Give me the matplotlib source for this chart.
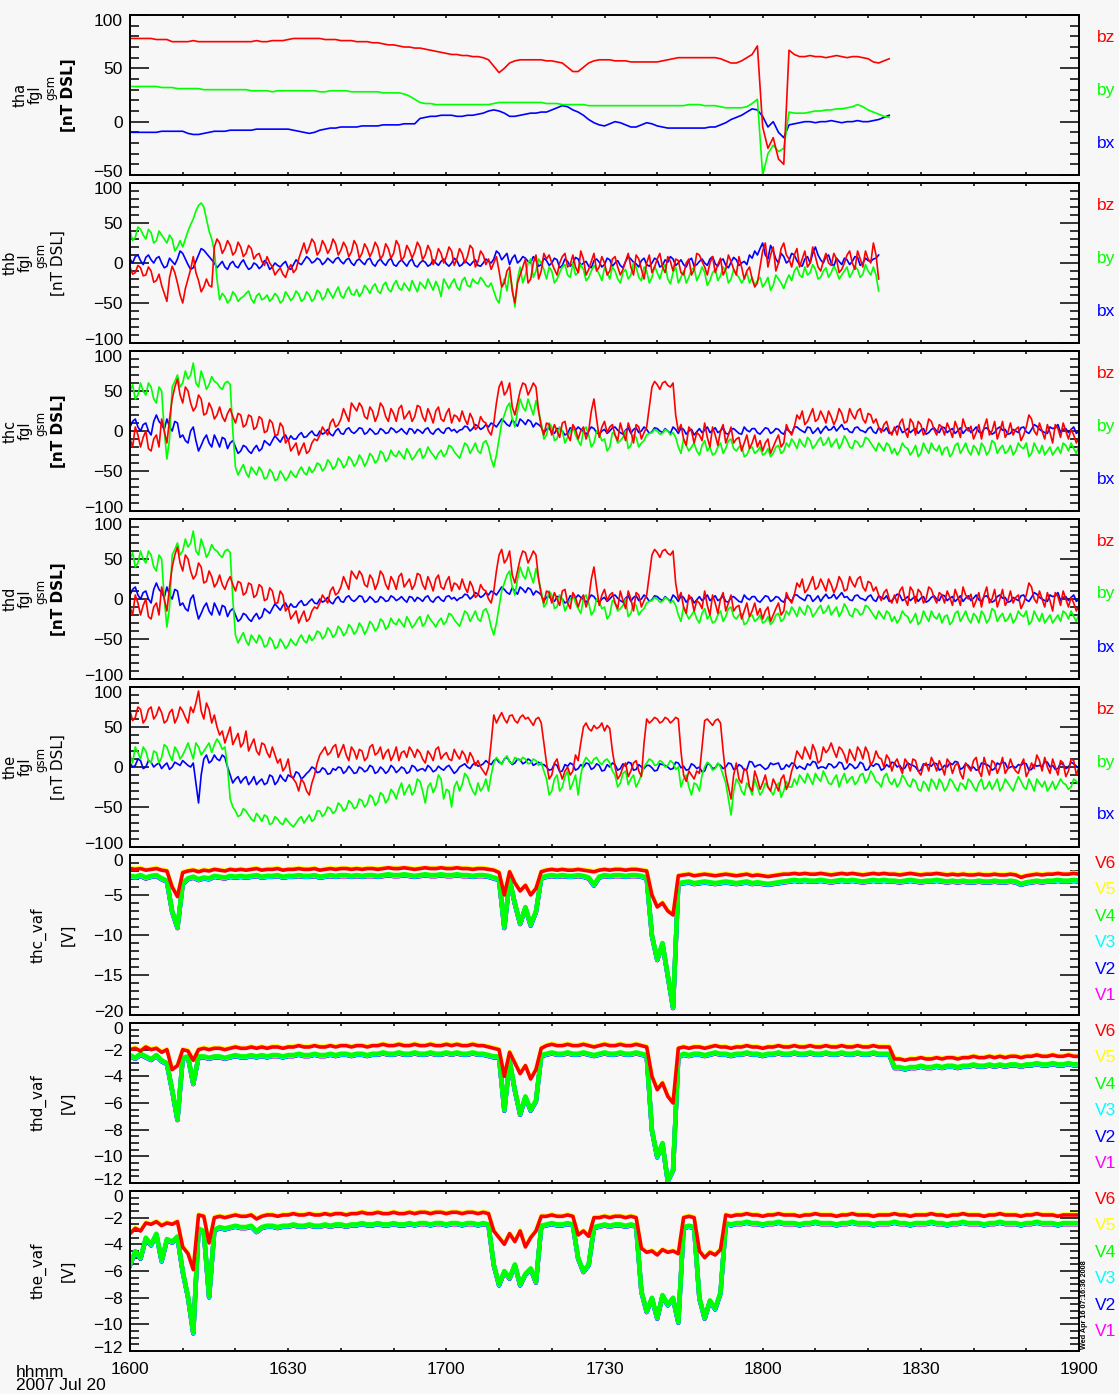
import numpy as np
import matplotlib
matplotlib.use("Agg")
import matplotlib.pyplot as plt
import matplotlib.transforms as mtransforms
from matplotlib.ticker import MultipleLocator, FixedLocator

plt.rcParams['font.family'] = ['Liberation Sans', 'DejaVu Sans']

# ---------------- axis text ----------------
X_TICK_MINUTES = [0, 30, 60, 90, 120, 150, 180]
X_TICK_LABELS = ['1600', '1630', '1700', '1730', '1800', '1830', '1900']
TIME_LABEL = 'hhmm'
DATE_LABEL = '2007 Jul 20'
STAMP = 'Wed Apr 16 07:16:36 2008'
FGM_COMPONENTS = ['bz', 'by', 'bx']
VAF_COMPONENTS = ['V6', 'V5', 'V4', 'V3', 'V2', 'V1']

# ---------------- data ----------------
# *_BZ/BY/BX: one value per whole minute after 16:00 UT;
# *_MID: readings between those minutes (at minute + 0.5)
THA_BZ = [78,78,78,78,78,77,77,77,
          75,75,75,75,76,75,75,75,75,75,75,75,75,75,75,75,76,75,75,76,76,76,
          77,78,78,78,78,78,78,77,77,77,76,
          76,76,75,75,75,74,74,73,72,72,71,70,70,69,69,68,67,66,65,64,63,63,62,62,61,61,60,58,52,46,
          50,55,57,58,58,58,58,58,57,57,56,55,51,47,47,51,55,57,58,58,
          58,57,57,57,56,56,56,56,56,56,57,58,59,60,60,60,60,60,60,60,
          60,59,57,55,55,57,60,63,71,
          -5,-25,-15,-35,-40,
          67,63,61,61,62,61,61,60,61,62,61,60,61,61,60,59,56,55,57,59]
THA_BY = [33,33,33,33,33,33,32,32,32,31,31,31,31,31,30,30,30,30,30,30,30,
          30,30,29,29,29,29,28,29,29,29,
          29,29,29,29,29,28,28,29,29,29,29,28,28,28,28,28,28,27,27,27,
          27,26,24,21,18,
          17,17,16,16,16,16,16,16,16,16,16,16,16,17,18,
          18,18,18,18,18,18,18,18,17,17,17,16,16,16,16,16,15,15,15,15,
          15,15,15,15,15,15,15,15,15,15,15,15,15,15,15,16,16,16,15,15,
          15,14,13,13,13,13,14,17,21,
          -50,-30,-22,-28,-25,
          9,8,8,8,9,10,10,11,11,12,12,13,14,16,14,11,9,7,5,4]
THA_BX = [-10,-10,-10,-10,-10,-10,-9,-9,-9,-9,-9,
          -11,-12,-12,-11,-10,-9,-9,-9,-8,-8,-8,-8,-8,-7,-7,
          -7,-7,-7,-7,-7,-8,-9,-10,-11,-10,-8,-7,-6,-6,-5,
          -5,-5,-5,-4,-4,-4,-4,-3,-3,-3,-3,-2,-2,-2,
          3,4,5,5,6,6,6,5,5,6,6,
          7,8,10,11,10,8,
          5,5,6,7,8,8,9,9,
          11,13,15,14,11,9,6,
          2,-1,-3,-4,
          -2,0,-1,-3,-5,-5,-3,-1,-2,-4,
          -5,-6,-6,-6,-6,-6,-6,-6,
          -6,-5,-5,-3,-1,2,4,6,9,12,11,
          5,-5,0,-10,-15,
          -3,-2,-1,0,0,-1,0,0,1,0,-1,0,0,1,0,0,1,2,4,6]

THB_BZ = [-5,-12,-6,-15,-10,-22,-28,-48,-4,-25,-50,-20,8,-22,-30,-28,20,
          25,18,22,14,20,12,18,10,2,8,-5,
          -10,-14,-8,-12,5,25,
          20,25,15,22,18,24,16,20,14,22,12,18,
          15,20,10,18,12,22,8,16,14,20,10,15,5,12,8,
          15,5,12,8,18,2,10,5,
          0,-10,-25,-5,-50,-15,5,-20,10,-10,5,
          0,-15,8,-5,10,-12,5,-8,12,-5,0,-10,8,-15,2,-5,10,-8,0,-12,5,
          -5,8,-10,3,-15,5,-8,10,-5,0,-12,6,-8,2,-15,-5,-10,-20,
          -25,15,-5,20,0,25,5,
          10,-5,15,0,8,-10,12,-3,5,-8,10,0,15,-5,5,25,-20]
THB_BZ_MID = [-14,-3,-16,-5,-24,-14,-38,-18,-12,-40,-32,-8,-12,-36,-20,-30,
              30,12,28,10,26,8,22,5,12,-3,0,
              -15,-6,-18,-2,-8,15,
              12,30,10,28,12,30,10,26,8,28,6,24,
              8,26,5,24,6,28,3,22,6,26,4,22,-2,18,0,
              20,-3,18,0,22,-5,15,-2,
              -8,8,-30,-10,-35,-25,-5,-25,0,-20,12,
              10,-8,0,12,-2,-5,15,-15,2,-10,8,-15,5,-5,-8,12,-15,5,-20,10,-5,
              12,-12,2,5,-12,0,-15,12,2,-15,8,-2,-15,10,-8,8,-20,-5,
              -30,-5,25,10,-10,18,10,
              -5,18,5,-5,20,-5,2,0,12,-12,0,15,-8,5,15,0,10]
THB_BY = [40,32,42,30,38,28,35,25,30,20,
          20,40,55,72,70,40,15,-46,
          -42,-46,-40,-44,-38,-45,-41,-46,-40,-44,-42,-47,-41,
          -43,-39,-45,-40,-44,-37,-42,-38,-36,-41,-35,-39,-33,-37,-32,
          -30,-35,-28,-33,-27,-31,-25,-35,-29,-24,-32,-27,-23,-42,-26,
          -25,-30,-22,-28,-20,-26,-22,-30,
          -35,-50,-20,
          -10,-55,-5,-15,5,-10,0,-20,
          -10,-20,-5,-15,0,-12,-8,-18,-3,-14,-6,-20,-10,-25,-8,-15,-5,-22,-10,-18,-12,
          -8,-20,-12,-25,-10,-18,-6,-15,-12,-22,-8,-16,-10,-20,-14,-25,-12,-18,
          -22,-30,-18,-28,-20,-32,-15,
          -10,-15,-5,-12,-8,-18,-6,-12,-10,-15,-5,-12,-8,-14,-10,-5,-35]
THB_BY_MID = [28,45,35,42,25,40,30,35,15,
              28,30,48,65,75,55,30,-20,
              -38,-50,-36,-48,-42,-35,-50,-38,-44,-48,-38,-50,-36,
              -47,-35,-48,-36,-48,-34,-46,-32,-44,-30,-44,-30,-40,-42,-28,
              -38,-26,-38,-24,-36,-22,-34,-30,-22,-36,-28,-20,-34,-30,-20,
              -32,-20,-34,-18,-30,-24,-18,-28,
              -25,-45,-30,-35,-30,-20,-25,0,-18,5,-8,
              -5,-25,-12,-2,-18,-15,-2,-22,-10,-8,-22,-12,-5,-20,-12,-20,0,-18,-5,-25,-4,
              -20,-2,-26,-5,-18,-25,-8,-22,-5,-28,-12,-22,-5,-25,-8,-18,-20,-25,
              -28,-18,-25,-34,-15,-25,-22,
              -22,-5,-18,-15,-2,-20,-10,-18,-4,-20,-10,-18,-4,-18,-2,-15,-15]
THB_BX = [5,8,3,7,4,6,0,-4,2,5,12,-2,-6,10,16,8,0,
          -2,-5,-1,-4,0,-3,-6,-2,-4,0,-5,-3,-1,-6,-2,0,3,5,2,
          4,1,3,5,2,4,0,3,1,4,-1,2,0,3,-2,1,0,2,-3,0,1,-2,0,2,-1,0,3,-2,0,1,-3,0,2,
          5,12,8,-2,10,3,6,0,4,-2,3,
          0,4,-3,2,-1,5,0,-4,3,1,-2,4,0,-3,2,5,-1,3,-2,0,4,-3,1,5,0,-2,3,-4,2,0,5,-1,3,-3,1,4,0,-2,6,
          10,25,5,15,0,8,3,10,-2,5,0,20,4,8,0,6,-2,4,2,7,0,3,5,10]
THB_BX_MID = [0,10,-2,10,0,8,-6,6,-2,15,5,-8,2,18,12,4,
              -6,2,-8,2,-6,4,-8,0,-7,3,-8,0,-5,2,-8,4,-2,8,0,
              6,-2,6,0,7,-1,6,-3,5,-2,6,-4,5,-3,6,-4,4,-4,5,-5,3,-4,4,-3,5,-4,6,-4,3,-3,4,-4,5,
              0,15,4,12,6,0,8,2,8,-4,6,
              -3,6,-6,5,-4,7,-3,2,-6,5,-5,6,-4,3,-6,8,1,-5,6,-4,6,-5,4,8,-3,4,-5,6,-2,5,-3,8,-4,5,-6,7,-3,2,10,
              15,18,10,22,5,12,0,12,3,-4,8,12,10,0,10,-4,2,6,-2,8,-3,6,2,6]

THC_BZ = [-10,5,-20,0,-25,-5,15,-15,40,65,35,
          50,25,45,20,35,15,30,12,28,10,
          20,8,18,5,15,0,10,-5,5,-10,
          -20,-30,-15,-25,-10,-5,0,10,5,15,
          20,35,25,30,15,25,20,30,12,22,
          28,15,25,18,30,12,20,25,15,22,
          10,18,25,8,15,5,12,0,
          10,55,45,60,20,50,58,52,55,5,10,-5,
          0,10,-5,8,-10,5,0,40,-8,12,5,-5,10,-12,0,8,-10,5,
          55,58,60,57,60,
          0,-10,5,-15,-5,10,-20,-5,0,-15,5,-10,-25,-5,-15,-20,
          -25,-10,-20,-5,-15,0,5,
          15,8,20,12,25,10,18,15,22,12,20,25,15,22,10,5,8,0,5,
          10,0,15,-5,8,0,12,-5,5,10,-8,3,15,0,-10,8,5,-5,12,0,
          -8,10,2,-12,5,15,-5,0,8,-15,3,10,-10,-5,-8]
THC_BZ_MID = [-20,-5,-8,-22,-10,-20,0,15,55,45,
              55,35,30,40,22,28,20,18,22,18,
              22,5,20,2,18,-2,14,-5,10,-15,
              -25,-15,-22,-28,-15,-12,5,-5,15,8,
              28,12,30,35,18,30,12,35,18,28,12,32,20,12,32,18,28,10,30,12,28,20,12,15,22,2,18,10,
              -5,35,62,50,30,35,60,45,60,25,-5,8,
              8,-8,12,-12,2,0,-10,25,15,5,-2,8,-12,-2,10,-15,5,-2,
              30,62,52,62,55,20,
              8,-18,0,-2,-12,-8,5,-18,8,-5,-15,-8,-15,-22,-5,-12,
              -15,-28,-12,-20,8,-5,
              20,25,12,28,15,18,25,8,28,10,28,15,28,10,20,15,-2,12,-5,
              -5,15,-8,10,12,-5,15,2,8,-5,2,12,-8,5,6,-2,-10,15,0,-10,
              12,-2,-5,5,-5,20,0,10,-10,-2,8,-8,0,2,-15]
THC_BY = [50,40,60,45,55,35,50,-35,
          55,70,60,65,85,55,65,58,62,55,60,58,
          -45,-48,-52,-45,-55,-50,-58,-52,-60,-55,-58,
          -55,-50,-52,-45,-48,-42,-46,-40,-44,-38,-42,-36,-40,-35,-38,
          -32,-36,-28,-34,-30,-25,-35,-28,-32,-22,-30,-26,-35,-24,-28,-20,-30,-25,-18,-22,
          -25,-15,-20,-45,-10,
          20,35,5,40,25,30,38,
          10,-5,5,-10,0,-8,5,-12,0,-5,-15,-3,-10,-20,-5,-12,0,-18,-8,-15,-5,
          -2,0,-3,0,-2,
          -20,-10,-25,-15,-30,-12,-20,-28,-15,-22,-10,-25,-18,-30,-20,-25,-30,-22,-28,-18,-25,-20,
          -15,-10,-20,-12,-18,-8,-15,-20,-10,-16,-12,-22,-14,-18,-10,-20,-15,-25,-18,-22,
          -25,-20,-30,-18,-28,-22,-15,-25,-30,-20,-28,-15,-22,-25,-18,-30,-20,-25,-15,-22,
          -28,-18,-25,-20,-15,-28,-22,-18,-25,-30,-20,-15,-25,-22,-18]
THC_BY_MID = [58,45,50,60,40,55,0,-10,
              62,55,75,70,60,75,52,68,60,52,62,0,
              -55,-42,-58,-50,-45,-60,-48,-62,-50,-62,
              -50,-58,-45,-55,-52,-40,-50,-36,-48,-34,-46,-32,-44,-30,-44,
              -28,-40,-25,-38,-24,-32,-30,-22,-36,-26,-34,-20,-30,-28,-32,-18,-26,-34,-15,-28,
              -15,-28,-12,-35,-30,10,30,15,25,30,40,20,
              25,-10,10,-12,5,-15,0,-5,-18,5,-20,0,-12,-25,-2,-15,-8,-22,-5,-20,-12,
              -3,2,-4,2,-5,-8,
              -28,-18,-20,-25,-18,-25,-30,-20,-28,-12,-22,-20,-32,-22,-28,-20,-28,-32,-20,-28,-15,
              -10,-22,-16,-8,-22,-12,-18,-8,-15,-22,-6,-20,-12,-20,-8,-15,-25,-20,-15,-28,
              -30,-15,-22,-25,-32,-15,-28,-22,-18,-22,-32,-18,-28,-15,-30,-22,-15,-30,-12,-28,
              -18,-25,-30,-15,-22,-32,-15,-28,-30,-20,-25,-28,-18,-15,-28]
THC_BX = [5,15,0,10,-5,20,8,15,0,10,-5,
          -15,5,-25,-10,-15,-5,-20,-10,-15,-20,
          -25,-20,-28,-18,-22,-15,-12,-10,-8,-12,
          -10,-5,-8,-3,-5,0,-2,-4,0,-3,2,-1,0,3,-2,
          0,-3,1,-2,2,0,-1,3,-3,0,2,-2,1,-1,3,0,-2,2,5,3,6,4,5,
          8,10,12,6,10,15,8,12,10,5,
          2,-2,3,0,-3,2,5,-1,0,3,-4,2,0,5,-2,1,-3,4,0,2,-1,3,-2,0,5,-3,2,0,-5,3,1,-2,4,0,-3,2,0,-4,1,3,-2,0,
          3,-1,2,-4,0,5,2,-2,4,0,-3,6,2,0,8,3,-2,5,0,3,-1,4,0,-3,2,5,0,-2,3,1,
          -4,2,0,5,-2,3,0,-3,4,1,-1,3,0,-2,5,2,-3,0,4,-1,2,6,0,-3,3,8,2,-2,5,0]
THC_BX_MID = [12,5,8,0,12,12,2,5,12,-8,
              -12,0,-12,-18,-5,-20,-12,-8,-22,-12,
              -28,-18,-25,-22,-25,-12,-18,-6,-14,-5,
              -6,-10,-2,-7,0,-6,-4,2,-6,3,-4,4,-3,4,-4,
              3,-4,3,-3,4,-2,3,-4,2,2,-3,4,-4,3,-3,4,2,1,6,0,8,2,8,
              10,5,15,8,14,6,12,14,5,8,
              -2,4,-3,3,-5,4,1,2,-4,5,-2,0,-3,4,1,-4,4,2,-2,5,-3,4,0,3,-3,2,4,-4,2,-1,-2,5,1,-2,4,-4,3,-3,5,-1,3,-4,
              4,-3,3,-2,3,-3,5,0,5,-3,4,2,1,6,4,2,-1,4,1,-2,5,-3,2,4,-2,6,-2,3,1,-3,
              3,-2,4,-2,4,1,-3,4,1,-2,5,-3,4,-4,3,1,-4,2,-2,5,-3,8,2,-2,5,4,-2,3,2,-3]

THD_BZ, THD_BZ_MID = list(THC_BZ), list(THC_BZ_MID)
THD_BY, THD_BY_MID = list(THC_BY), list(THC_BY_MID)
THD_BX, THD_BX_MID = list(THC_BX), list(THC_BX_MID)

THE_BZ = [70,62,72,60,75,65,68,58,72,62,70,55,68,95,60,72,65,
          40,30,50,35,25,45,
          28,20,30,18,25,5,
          -5,10,-15,-30,-20,-35,
          -10,15,25,18,28,20,
          15,25,10,20,12,28,18,10,22,15,8,20,25,12,18,5,15,22,10,18,8,15,20,5,12,8,
          -5,0,
          65,62,60,64,58,62,60,57,60,55,
          5,-10,10,-15,0,-5,8,
          50,48,52,50,45,48,
          0,-10,5,-5,8,-12,
          60,58,60,57,60,58,60,
          -10,-5,-15,-8,
          58,56,58,55,
          -10,-40,5,-20,-5,-30,-15,
          -20,-25,-15,-30,-10,-20,5,
          15,25,10,20,8,18,30,12,22,5,15,25,10,18,8,12,0,10,5,
          0,10,-5,8,-10,5,12,-5,0,10,-8,5,-15,0,8,-5,12,-10,5,0,
          -8,10,-5,3,-12,5,15,-5,0,10,-10,5,-5,8,0]
THE_BZ_MID = [58,75,55,72,60,75,55,68,55,75,62,75,80,70,80,55,
              50,45,40,28,42,30,
              20,35,15,28,12,15,
              10,0,-10,-20,-15,-30,
              -20,5,20,15,25,12,
              28,8,20,22,8,25,15,25,18,8,25,18,12,20,22,10,20,8,25,15,10,22,10,15,18,2,
              0,-10,30,55,68,55,65,55,65,62,52,62,
              30,-15,5,-5,-5,-10,15,
              30,55,45,48,55,52,
              20,-15,0,-12,5,-5,
              30,55,62,55,62,55,62,
              20,-18,-10,-5,
              25,60,52,60,
              20,-25,-10,-15,-2,-25,-5,
              -28,-10,-30,-22,-15,-28,-5,
              20,10,18,28,5,25,22,20,25,15,22,8,20,25,2,20,10,15,-5,
              10,-8,5,10,-5,2,-5,5,8,-10,5,2,-8,5,-5,12,-12,0,8,-8,
              12,-2,0,-8,10,-5,-2,8,12,-8,0,8,-12,10,-10]
THE_BY = [15,25,10,20,5,18,12,25,8,20,15,30,10,25,20,30,28,
          30,25,-40,-55,
          -60,-55,-65,-58,-68,-62,-70,-65,-72,-68,-75,-65,-70,
          -60,-65,-55,-58,-52,-55,-48,-52,-45,-50,-42,-46,-38,-44,-35,-40,-32,
          -28,-35,-22,-30,-18,-45,-20,-25,-15,-28,-50,-18,-22,-12,-30,-20,
          -25,-30,
          5,8,10,6,12,8,10,5,8,6,
          -15,-30,-10,-25,-5,-20,-35,
          5,8,10,6,8,5,
          -10,-20,-5,-15,-25,-10,
          5,8,3,6,2,5,0,
          -15,-25,-20,-30,
          0,3,-2,0,
          -20,-60,-15,-30,-20,-35,-25,
          -30,-25,-35,-20,-30,-25,-15,
          -10,-20,-15,-8,-18,-12,-22,-10,-15,-20,-12,-18,-8,-15,-10,-20,-12,-18,-15,
          -20,-15,-25,-18,-30,-22,-15,-28,-20,-25,-18,-30,-22,-15,-25,-20,-28,-18,-22,-30,
          -15,-25,-20,-18,-28,-22,-15,-25,-30,-18,-22,-20,-28,-15,-22]
THE_BY_MID = [5,18,25,8,20,5,28,15,25,10,22,20,30,15,25,18,
              35,22,0,-50,
              -62,-52,-60,-68,-62,-60,-72,-62,-70,-64,-72,-70,-62,
              -65,-68,-55,-62,-50,-58,-45,-55,-42,-52,-40,-50,-35,-48,-32,-45,-28,
              -40,-20,-28,-35,-15,-30,-25,-32,-10,-40,-30,-25,-30,-8,-22,-35,
              -30,-15,-10,12,3,14,4,10,12,4,10,2,
              -5,-35,-15,-30,-12,-28,-10,
              -10,12,4,12,3,10,
              -5,-25,-8,-22,-10,-18,
              0,10,2,8,0,8,-3,
              -25,-10,-35,-22,
              -10,6,-4,5,
              -10,-40,-30,-20,-35,-25,-15,
              -35,-20,-30,-25,-38,-18,-25,
              -22,-15,-8,-22,-14,-5,-20,-15,-25,-8,-15,-22,-10,-20,-5,-18,-25,-8,-22,
              -25,-10,-22,-15,-28,-18,-30,-20,-15,-30,-15,-25,-20,-28,-18,-30,-15,-25,-28,-15,
              -25,-20,-30,-12,-25,-15,-30,-20,-18,-25,-28,-15,-22,-25,-18]
THE_BX = [5,2,8,0,6,3,-2,5,0,4,8,2,5,
          -45,
          10,5,15,8,12,
          -10,-15,-20,-12,-18,-22,-15,-20,-12,-18,-15,-10,-14,-8,-12,
          -5,-2,-6,-3,-8,-4,-1,-5,-3,-7,-2,-4,0,-6,-3,-5,-1,-4,-2,-6,0,-3,-5,-1,-4,-2,0,-3,-5,2,0,3,1,4,
          5,8,6,10,7,5,9,6,8,4,3,
          0,-3,2,-5,1,3,-2,0,4,-1,2,-4,0,3,-2,1,5,-3,0,2,
          -1,-4,3,0,-2,5,1,-3,2,0,-5,3,-1,2,0,4,-2,1,-3,6,
          2,0,-1,3,5,-2,0,4,1,-3,2,6,0,-2,3,1,5,-1,2,0,
          4,-3,1,3,-2,0,5,2,-1,3,0,-4,2,1,4,-2,0,3,6,-1,
          2,0,-3,4,1,-2,3,5,0,-1,2,4,-3,1,0,6,2,-2,3,0,
          4,-1]
THE_BX_MID = [0,10,-2,8,0,5,2,-3,6,2,5,0,-20,
              -10,15,8,10,15,0,
              -20,-12,-15,-22,-12,-18,-22,-10,-22,-10,-18,-12,-6,-15,
              -8,0,-7,-1,-9,-2,0,-8,1,-8,0,-6,2,-8,0,-8,2,-7,0,-8,2,-5,-2,2,-6,1,-4,2,-8,0,4,-2,5,2,
              8,3,10,4,12,3,10,4,10,2,6,
              3,-4,4,-6,3,5,-4,3,5,-3,4,-5,3,5,-4,4,6,-4,3,-2,
              2,-5,4,2,-3,6,-1,-4,4,-2,-6,4,-2,4,-2,5,-3,3,-4,7,
              0,3,-3,5,4,-3,3,5,-2,-1,4,7,-2,0,4,-1,6,-3,4,-2,
              6,-4,3,4,-4,3,6,0,-3,5,2,-5,4,3,5,-4,2,5,7,-3,
              4,-2,-4,5,3,-4,5,6,-2,1,3,5,-4,3,2,7,0,-3,5,-2,
              6,1]

THC_V6 = [-1.7,-1.8,-1.7,-1.9,-1.8,-1.7,-1.9,-2.0,
          -4.0,-5.2,-2.2,
          -2.0,-1.9,-2.1,-1.9,-2.0,-1.8,-1.9,-2.0,-1.8,-1.9,
          -1.8,-1.9,-1.8,-1.7,-1.9,-1.8,-1.8,-1.7,-1.9,-1.8,
          -1.8,-1.7,-1.8,-1.8,-1.7,-1.9,-1.8,-1.7,-1.8,-1.7,
          -1.7,-1.8,-1.7,-1.8,-1.7,-1.7,-1.8,-1.7,-1.6,-1.7,
          -1.7,-1.6,-1.7,-1.8,-1.7,-1.6,-1.7,-1.7,-1.6,-1.7,
          -1.7,-1.6,-1.7,-1.7,-1.8,-1.7,-1.7,-1.8,-1.9,
          -2.2,-5.0,-2.1,-3.5,-4.5,-3.8,-5.0,-4.2,-2.1,
          -1.9,-1.8,-1.9,-1.8,-1.9,-1.9,-1.8,-1.9,-2.0,-2.1,
          -1.9,-1.8,-1.9,-1.8,-1.8,-1.9,-1.8,-1.8,-1.9,-2.0,
          -5.0,-6.5,-6.0,-7.0,-7.5,-2.6,
          -2.5,-2.4,-2.6,-2.5,-2.4,-2.5,-2.6,-2.5,-2.4,-2.5,
          -2.6,-2.5,-2.4,-2.6,-2.5,-2.6,-2.7,-2.6,-2.5,-2.4,
          -2.4,-2.3,-2.4,-2.3,-2.4,-2.4,-2.3,-2.4,-2.5,-2.4,
          -2.3,-2.4,-2.3,-2.4,-2.5,-2.4,-2.3,-2.4,-2.3,-2.4,
          -2.4,-2.5,-2.4,-2.3,-2.4,-2.5,-2.4,-2.4,-2.3,-2.4,
          -2.5,-2.4,-2.5,-2.4,-2.5,-2.5,-2.4,-2.5,-2.5,-2.4,
          -2.5,-2.5,-2.4,-2.5,-2.8,-2.6,-2.5,-2.4,-2.5,-2.4,
          -2.4,-2.3,-2.4,-2.4,-2.3,-2.4]
THC_V4 = [-2.6,-2.7,-2.5,-2.8,-2.6,-2.5,-2.9,-3.2,
          -7.0,-9.0,-3.5,
          -2.9,-2.7,-3.0,-2.8,-2.9,-2.6,-2.7,-2.8,-2.6,-2.7,
          -2.6,-2.7,-2.6,-2.5,-2.7,-2.6,-2.6,-2.5,-2.7,-2.6,
          -2.6,-2.5,-2.6,-2.6,-2.5,-2.7,-2.6,-2.5,-2.6,-2.5,
          -2.5,-2.6,-2.5,-2.6,-2.5,-2.5,-2.6,-2.5,-2.4,-2.5,
          -2.5,-2.4,-2.5,-2.6,-2.5,-2.4,-2.5,-2.5,-2.4,-2.5,
          -2.5,-2.4,-2.5,-2.5,-2.6,-2.5,-2.5,-2.6,-2.8,
          -3.0,-9.0,-3.0,-6.0,-8.5,-6.5,-8.7,-7.0,-2.8,
          -2.6,-2.5,-2.6,-2.5,-2.6,-2.6,-2.5,-2.6,-2.8,-3.7,
          -2.7,-2.5,-2.6,-2.5,-2.5,-2.6,-2.5,-2.5,-2.6,-2.8,
          -10.0,-13.0,-11.0,-15.0,-19.0,-3.5,
          -3.4,-3.3,-3.5,-3.4,-3.3,-3.4,-3.5,-3.4,-3.3,-3.4,
          -3.5,-3.4,-3.3,-3.5,-3.4,-3.5,-3.6,-3.5,-3.4,-3.3,
          -3.2,-3.1,-3.2,-3.1,-3.2,-3.2,-3.1,-3.2,-3.3,-3.2,
          -3.1,-3.2,-3.1,-3.2,-3.3,-3.2,-3.1,-3.2,-3.1,-3.2,
          -3.2,-3.3,-3.2,-3.1,-3.2,-3.3,-3.2,-3.2,-3.1,-3.2,
          -3.3,-3.2,-3.3,-3.2,-3.3,-3.3,-3.2,-3.3,-3.3,-3.2,
          -3.3,-3.3,-3.2,-3.3,-3.6,-3.4,-3.3,-3.2,-3.3,-3.2,
          -3.2,-3.1,-3.2,-3.2,-3.1,-3.2]

THD_V6 = [-2.0,-1.9,-2.1,-1.8,-2.0,-1.9,-2.2,-2.0,
          -3.5,-3.2,-2.0,-2.1,-2.8,-2.0,
          -1.9,-2.0,-1.9,-1.9,-2.0,-1.9,-1.8,-1.9,-1.9,-1.8,
          -1.9,-1.8,-1.9,-1.8,-1.8,-1.9,-1.8,-1.8,-1.7,-1.8,
          -1.8,-1.7,-1.8,-1.8,-1.7,-1.8,-1.7,-1.7,-1.8,-1.7,
          -1.7,-1.8,-1.7,-1.7,-1.6,-1.7,-1.7,-1.6,-1.7,-1.7,
          -1.6,-1.7,-1.7,-1.6,-1.7,-1.7,-1.6,-1.7,-1.6,-1.7,
          -1.7,-1.6,-1.7,-1.7,-1.8,-1.9,
          -2.0,-4.0,-2.2,-3.0,-3.8,-3.2,-4.2,-3.5,-1.9,
          -1.7,-1.6,-1.7,-1.7,-1.6,-1.7,-1.7,-1.6,-1.7,-1.8,
          -1.7,-1.6,-1.7,-1.7,-1.6,-1.7,-1.7,-1.6,-1.7,-1.8,
          -4.0,-5.0,-4.5,-5.5,-6.0,-1.9,
          -1.8,-1.9,-1.8,-1.8,-1.9,-1.8,-1.7,-1.8,-1.8,-1.9,
          -1.8,-1.8,-1.7,-1.8,-1.8,-1.9,-1.8,-1.8,-1.7,-1.8,
          -1.8,-1.7,-1.8,-1.8,-1.7,-1.8,-1.8,-1.7,-1.8,-1.8,
          -1.7,-1.8,-1.8,-1.7,-1.8,-1.8,-1.7,-1.8,-1.8,-1.8,
          -2.7,-2.7,-2.8,-2.7,-2.7,-2.6,-2.7,-2.7,-2.6,-2.7,
          -2.6,-2.6,-2.7,-2.6,-2.6,-2.5,-2.6,-2.6,-2.5,-2.6,
          -2.5,-2.6,-2.5,-2.5,-2.6,-2.5,-2.5,-2.4,-2.5,-2.5,
          -2.4,-2.5,-2.5,-2.4,-2.5,-2.5]
THD_V4 = [-2.4,-2.6,-2.3,-2.5,-2.7,-2.4,-2.8,-3.0,
          -5.0,-7.2,-2.6,-2.5,-4.5,-2.5,
          -2.5,-2.6,-2.5,-2.5,-2.6,-2.5,-2.4,-2.5,-2.5,-2.4,
          -2.5,-2.4,-2.5,-2.4,-2.4,-2.5,-2.4,-2.4,-2.3,-2.4,
          -2.4,-2.3,-2.4,-2.4,-2.3,-2.4,-2.3,-2.3,-2.4,-2.3,
          -2.3,-2.4,-2.3,-2.3,-2.2,-2.3,-2.3,-2.2,-2.3,-2.3,
          -2.2,-2.3,-2.3,-2.2,-2.3,-2.3,-2.2,-2.3,-2.2,-2.3,
          -2.3,-2.2,-2.3,-2.3,-2.4,-2.5,
          -2.5,-6.5,-2.8,-5.0,-6.8,-5.5,-6.5,-5.8,-2.4,
          -2.3,-2.2,-2.3,-2.3,-2.2,-2.3,-2.3,-2.2,-2.3,-2.4,
          -2.3,-2.2,-2.3,-2.3,-2.2,-2.3,-2.3,-2.2,-2.3,-2.4,
          -8.0,-10.0,-9.0,-11.8,-11.0,-2.5,
          -2.3,-2.4,-2.3,-2.3,-2.4,-2.3,-2.2,-2.3,-2.3,-2.4,
          -2.3,-2.3,-2.2,-2.3,-2.3,-2.4,-2.3,-2.3,-2.2,-2.3,
          -2.3,-2.2,-2.3,-2.3,-2.2,-2.3,-2.3,-2.2,-2.3,-2.3,
          -2.2,-2.3,-2.3,-2.2,-2.3,-2.3,-2.2,-2.3,-2.3,-2.3,
          -3.3,-3.3,-3.4,-3.3,-3.3,-3.2,-3.3,-3.3,-3.2,-3.3,
          -3.2,-3.2,-3.3,-3.2,-3.2,-3.1,-3.2,-3.2,-3.1,-3.2,
          -3.1,-3.2,-3.1,-3.1,-3.2,-3.1,-3.1,-3.0,-3.1,-3.1,
          -3.0,-3.1,-3.1,-3.0,-3.1,-3.1]

THE_V6 = [-3.2,-2.8,-3.0,-2.4,-2.5,-2.3,-2.6,-2.4,-2.5,-2.3,
          -4.2,-4.7,-5.9,-1.8,-1.9,-3.9,-2.0,
          -1.9,-2.0,-1.9,-1.8,-1.9,-1.9,-1.8,-2.1,-1.9,-1.8,
          -1.8,-1.9,-1.8,-1.8,-1.7,-1.8,-1.8,-1.7,-1.8,-1.8,
          -1.7,-1.8,-1.7,-1.7,-1.8,-1.7,-1.7,-1.6,-1.7,-1.7,
          -1.6,-1.7,-1.7,-1.6,-1.7,-1.7,-1.6,-1.7,-1.6,-1.6,
          -1.7,-1.6,-1.6,-1.7,-1.6,-1.6,-1.7,-1.6,-1.6,-1.7,
          -1.6,-1.7,
          -3.0,-3.5,-4.0,-3.2,-3.8,-3.0,-4.2,-3.5,-3.0,-1.9,
          -1.9,-1.8,-1.9,-1.9,-1.8,-1.9,
          -3.3,-3.0,-3.4,-2.0,
          -2.0,-1.9,-2.0,-1.9,-1.9,-2.0,-1.9,-2.0,
          -4.3,-4.6,-4.5,-4.8,-4.4,-4.6,-4.5,-4.7,
          -2.0,-1.9,-2.0,
          -4.5,-5.0,-4.6,-4.8,-4.4,
          -1.8,-1.9,-1.8,-1.8,-1.7,-1.8,-1.8,-1.9,-1.8,-1.8,
          -1.7,-1.8,-1.8,-1.8,-1.9,-1.8,-1.8,-1.7,-1.8,-1.8,
          -1.8,-1.9,-1.8,-1.8,-1.7,-1.8,-1.8,-1.8,-1.9,-1.8,
          -1.8,-1.8,-1.7,-1.8,-1.8,-1.9,-1.8,-1.8,-1.8,-1.7,
          -1.8,-1.8,-1.9,-1.8,-1.8,-1.7,-1.8,-1.8,-1.8,-1.9,
          -1.8,-1.8,-1.7,-1.8,-1.8,-1.8,-1.9,-1.8,-1.8,-1.7,
          -1.8,-1.8,-1.8,-1.9,-1.8,-1.8,-1.8,-1.8]
THE_V4 = [-5.5,-4.5,-5.0,-3.5,-4.0,-3.2,-5.2,-3.6,-3.8,-3.4,
          -6.0,-7.9,-10.6,-2.8,-3.0,-7.9,-2.9,
          -2.7,-2.8,-2.7,-2.6,-2.7,-2.7,-2.6,-3.0,-2.7,-2.6,
          -2.6,-2.7,-2.6,-2.6,-2.5,-2.6,-2.6,-2.5,-2.6,-2.6,
          -2.5,-2.6,-2.5,-2.5,-2.6,-2.5,-2.5,-2.4,-2.5,-2.5,
          -2.4,-2.5,-2.5,-2.4,-2.5,-2.5,-2.4,-2.5,-2.4,-2.4,
          -2.5,-2.4,-2.4,-2.5,-2.4,-2.4,-2.5,-2.4,-2.4,-2.5,
          -2.4,-2.5,
          -5.5,-7.0,-6.0,-6.5,-5.5,-7.0,-6.2,-5.8,-6.8,-2.6,
          -2.5,-2.4,-2.5,-2.5,-2.4,-2.5,
          -5.0,-6.0,-5.5,-2.7,
          -2.6,-2.5,-2.6,-2.5,-2.5,-2.6,-2.5,-2.6,
          -7.5,-9.0,-8.0,-9.5,-7.8,-8.5,-8.0,-9.8,
          -2.7,-2.6,-2.7,
          -8.0,-9.5,-8.2,-8.8,-7.6,
          -2.4,-2.5,-2.4,-2.4,-2.3,-2.4,-2.4,-2.5,-2.4,-2.4,
          -2.3,-2.4,-2.4,-2.4,-2.5,-2.4,-2.4,-2.3,-2.4,-2.4,
          -2.4,-2.5,-2.4,-2.4,-2.3,-2.4,-2.4,-2.4,-2.5,-2.4,
          -2.4,-2.4,-2.3,-2.4,-2.4,-2.5,-2.4,-2.4,-2.4,-2.3,
          -2.4,-2.4,-2.5,-2.4,-2.4,-2.3,-2.4,-2.4,-2.4,-2.5,
          -2.4,-2.4,-2.3,-2.4,-2.4,-2.4,-2.5,-2.4,-2.4,-2.3,
          -2.4,-2.4,-2.4,-2.5,-2.4,-2.4,-2.4,-2.4]

# ---------------- layout / style ----------------
W, H = 1119, 1394
BG = '#f7f7f7'
RED, GREEN, BLUE = '#ff0000', '#00ff00', '#0000ff'
VAF_COLORS = ['#ff0000', '#ffff00', '#00ff00', '#00ffff', '#0000ff', '#ff00ff']
LEFT, RIGHT = 130, 1079
TOP0, PH, PITCH = 15, 160, 168
LABEL_FONT = ['DejaVu Sans']

fig = plt.figure(figsize=(W / 100, H / 100), dpi=100, facecolor=BG)


def fx(px):
    return px / W


def fy(py):
    return 1 - py / H


def merged(vals, mids):
    t = np.concatenate([np.arange(len(vals)), np.arange(len(mids)) + 0.5])
    y = np.concatenate([np.asarray(vals, float), np.asarray(mids, float)])
    order = np.argsort(t, kind='stable')
    return t[order], y[order]


all_axes = []


def make_axes(i, ylo, yhi, major, minor, last=False):
    top = TOP0 + i * PITCH
    ax = fig.add_axes([fx(LEFT), fy(top + PH), (RIGHT - LEFT) / W, PH / H])
    ax.set_facecolor(BG)
    ax.set_xlim(0, 180)
    ax.set_ylim(ylo, yhi)
    for s in ax.spines.values():
        s.set_linewidth(1.4)
        s.set_color('black')
    ax.xaxis.set_major_locator(FixedLocator(X_TICK_MINUTES))
    ax.xaxis.set_minor_locator(MultipleLocator(10))
    ax.yaxis.set_major_locator(MultipleLocator(major))
    ax.yaxis.set_minor_locator(MultipleLocator(minor))
    ax.tick_params(axis='y', which='major', direction='in', length=13.7, width=1.1,
                   left=True, right=True, labelsize=12.5, pad=5, colors='black')
    ax.tick_params(axis='y', which='minor', direction='in', length=6.5, width=1.1,
                   left=True, right=True)
    ax.tick_params(axis='x', which='both', direction='in', length=2.5, width=1.1,
                   top=True, bottom=True)
    if last:
        ax.set_xticklabels(X_TICK_LABELS)
        ax.tick_params(axis='x', labelsize=12.5, pad=8)
    else:
        ax.tick_params(axis='x', labelbottom=False)
    all_axes.append(ax)
    return ax, top


FGM = [('tha', (THA_BX, []), (THA_BY, []), (THA_BZ, []), -50, True, 0),
       ('thb', (THB_BX, THB_BX_MID), (THB_BY, THB_BY_MID), (THB_BZ, THB_BZ_MID), -100, False, -10),
       ('thc', (THC_BX, THC_BX_MID), (THC_BY, THC_BY_MID), (THC_BZ, THC_BZ_MID), -100, True, -10),
       ('thd', (THD_BX, THD_BX_MID), (THD_BY, THD_BY_MID), (THD_BZ, THD_BZ_MID), -100, True, -10),
       ('the', (THE_BX, THE_BX_MID), (THE_BY, THE_BY_MID), (THE_BZ, THE_BZ_MID), -100, False, -10)]

for i, (probe, bx, by, bz, ylo, boldunit, shift) in enumerate(FGM):
    ax, top = make_axes(i, ylo, 100, 50, 10)
    for (vals, mids), col in ((bx, BLUE), (by, GREEN), (bz, RED)):
        t, y = merged(vals, mids)
        ax.plot(t, y, color=col, lw=1.2)
    cy = top + PH / 2
    fig.text(fx(27.5 + shift), fy(cy), probe + '\nfgl', rotation=90, ha='center', va='center',
             multialignment='center', linespacing=1.05, fontsize=10.5, family=LABEL_FONT)
    fig.text(fx(51 + shift), fy(cy - 8), 'gsm', rotation=90, ha='center', va='center',
             fontsize=8.5, family=LABEL_FONT)
    fig.text(fx(68 + shift), fy(cy), '[nT DSL]', rotation=90, ha='center', va='center',
             fontsize=11, family=LABEL_FONT, fontweight='bold' if boldunit else 'normal')
    for name, col, dy in zip(FGM_COMPONENTS, (RED, GREEN, BLUE), (22, 75, 128)):
        fig.text(fx(1097), fy(top + dy), name, color=col, ha='left', va='center', fontsize=12.5)

VAF = [('thc_vaf', THC_V6, THC_V4, -20, 5, 1),
       ('thd_vaf', THD_V6, THD_V4, -12, 2, 0.5),
       ('the_vaf', THE_V6, THE_V4, -12, 2, 0.5)]

for j, (name, v6, v4, ylo, major, minor) in enumerate(VAF):
    i = 5 + j
    ax, top = make_axes(i, ylo, 0, major, minor, last=(i == 7))
    series = [(v4, VAF_COLORS[5], -1.2, 3.2), (v4, VAF_COLORS[4], -1.0, 3.2),
              (v4, VAF_COLORS[3], -0.8, 3.2), (v4, VAF_COLORS[2], 0.0, 3.2),
              (v6, VAF_COLORS[1], 1.0, 2.6), (v6, VAF_COLORS[0], 0.0, 2.6)]
    for vals, col, dy, lw in series:
        tr = mtransforms.offset_copy(ax.transData, fig=fig, x=0, y=dy, units='dots')
        ax.plot(np.arange(len(vals)), vals, color=col, lw=lw, transform=tr)
    cy = top + PH / 2
    fig.text(fx(38.5), fy(cy), name, rotation=90, ha='center', va='center', fontsize=11,
             family=LABEL_FONT)
    fig.text(fx(68), fy(cy), '[V]', rotation=90, ha='center', va='center', fontsize=11,
             family=LABEL_FONT)
    for k, (lab, col) in enumerate(zip(VAF_COMPONENTS, VAF_COLORS)):
        fig.text(fx(1095), fy(top + 8 + 26.6 * k), lab, color=col, ha='left', va='center', fontsize=12.5)

fig.text(fx(16), fy(1377), TIME_LABEL, ha='left', va='baseline', fontsize=12.5)
fig.text(fx(16), fy(1390), DATE_LABEL, ha='left', va='baseline', fontsize=12.5)
fig.text(fx(1084), fy(1305), STAMP, rotation=90, ha='center', va='center', fontsize=5.2,
         fontweight='bold')

# nudge the end labels of each y axis inward, as in the original plot
fig.canvas.draw()
for ax in all_axes:
    ylo, yhi = ax.get_ylim()
    for lab in ax.yaxis.get_majorticklabels():
        yv = lab.get_position()[1]
        if abs(yv - yhi) < 1e-9:
            off = -0.05
        elif abs(yv - ylo) < 1e-9:
            off = 0.04
        else:
            continue
        lab.set_transform(lab.get_transform() +
                          mtransforms.ScaledTranslation(0, off, fig.dpi_scale_trans))

fig.savefig('out.png', dpi=100, facecolor=BG)
